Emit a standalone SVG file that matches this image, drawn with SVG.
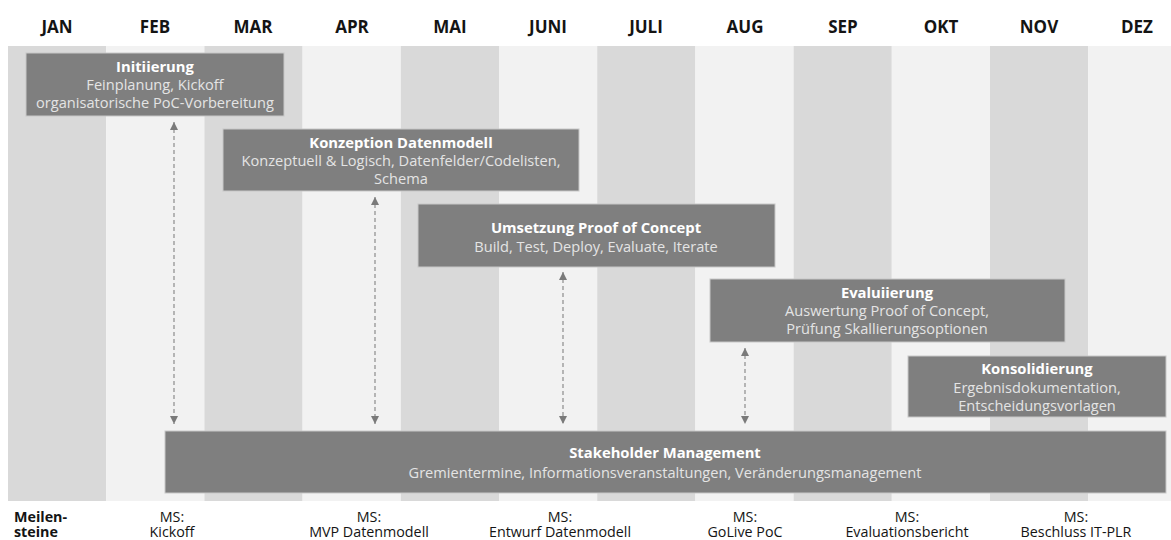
<svg xmlns="http://www.w3.org/2000/svg" width="1171" height="540" viewBox="0 0 1171 540">
  <style>
    .month { font-family: "Open Sans", "Noto Sans", sans-serif; font-size: 17px; font-weight: bold; fill: #141414; text-anchor: middle; }
    .colD { fill: #d9d9d9; }
    .colL { fill: #f2f2f2; }
    .box { fill: #7f7f7f; stroke: #c8c8c8; stroke-width: 1; }
    .title { font-family: "Open Sans", "Noto Sans", sans-serif; font-size: 14.8px; font-weight: bold; fill: #ffffff; text-anchor: middle; }
    .body { font-family: "Open Sans", "Noto Sans", sans-serif; font-size: 14.6px; fill: #e4e4e4; text-anchor: middle; }
    .link { stroke: #8c8c8c; stroke-width: 1.2; stroke-dasharray: 4 3; fill: none; }
    .ms { font-family: "Open Sans", "Noto Sans", sans-serif; font-size: 14.3px; fill: #141414; text-anchor: middle; }
    .msh { font-family: "Open Sans", "Noto Sans", sans-serif; font-size: 14.3px; font-weight: bold; fill: #141414; }
  </style>
  <defs>
    <marker id="tip" viewBox="0 0 10 10" refX="10" refY="5" markerWidth="8" markerHeight="8" markerUnits="userSpaceOnUse" orient="auto-start-reverse">
      <path d="M0,0 L10,5 L0,10 Z" fill="#7a7a7a"/>
    </marker>
  </defs>

  <rect width="1171" height="540" fill="#ffffff"/>

  <!-- month columns -->
  <g id="columns">
    <rect class="colD" x="8" y="46" width="98.2" height="455"/>
    <rect class="colL" x="106.2" y="46" width="98.2" height="455"/>
    <rect class="colD" x="204.4" y="46" width="98.2" height="455"/>
    <rect class="colL" x="302.6" y="46" width="98.2" height="455"/>
    <rect class="colD" x="400.8" y="46" width="98.2" height="455"/>
    <rect class="colL" x="499" y="46" width="98.2" height="455"/>
    <rect class="colD" x="597.2" y="46" width="98.2" height="455"/>
    <rect class="colL" x="695.4" y="46" width="98.2" height="455"/>
    <rect class="colD" x="793.6" y="46" width="98.2" height="455"/>
    <rect class="colL" x="891.8" y="46" width="98.2" height="455"/>
    <rect class="colD" x="990" y="46" width="98.2" height="455"/>
    <rect class="colL" x="1088.2" y="46" width="82.8" height="455"/>
  </g>

  <g id="months">
    <text class="month" x="57" y="33">JAN</text>
    <text class="month" x="155" y="33">FEB</text>
    <text class="month" x="253" y="33">MAR</text>
    <text class="month" x="352" y="33">APR</text>
    <text class="month" x="450" y="33">MAI</text>
    <text class="month" x="548" y="33">JUNI</text>
    <text class="month" x="646" y="33">JULI</text>
    <text class="month" x="745" y="33">AUG</text>
    <text class="month" x="843" y="33">SEP</text>
    <text class="month" x="941" y="33">OKT</text>
    <text class="month" x="1039" y="33">NOV</text>
    <text class="month" x="1137" y="33">DEZ</text>
  </g>

  <!-- connectors -->
  <g id="connectors">
    <line class="link" x1="174" y1="122" x2="174" y2="424" marker-start="url(#tip)" marker-end="url(#tip)"/>
    <line class="link" x1="375" y1="197" x2="375" y2="424" marker-start="url(#tip)" marker-end="url(#tip)"/>
    <line class="link" x1="563" y1="272" x2="563" y2="424" marker-start="url(#tip)" marker-end="url(#tip)"/>
    <line class="link" x1="745" y1="348" x2="745" y2="424" marker-start="url(#tip)" marker-end="url(#tip)"/>
  </g>

  <!-- phases -->
  <g id="initiierung">
    <rect class="box" x="26" y="53" width="258" height="63"/>
    <text class="title" x="155" y="72">Initiierung</text>
    <text class="body" x="155" y="90">Feinplanung, Kickoff</text>
    <text class="body" x="155" y="108">organisatorische PoC-Vorbereitung</text>
  </g>

  <g id="konzeption">
    <rect class="box" x="223" y="129" width="356" height="62"/>
    <text class="title" x="401" y="148">Konzeption Datenmodell</text>
    <text class="body" x="401" y="166">Konzeptuell &amp; Logisch, Datenfelder/Codelisten,</text>
    <text class="body" x="401" y="184">Schema</text>
  </g>

  <g id="umsetzung">
    <rect class="box" x="418" y="204" width="357" height="63"/>
    <text class="title" x="596" y="233">Umsetzung Proof of Concept</text>
    <text class="body" x="596" y="252">Build, Test, Deploy, Evaluate, Iterate</text>
  </g>

  <g id="evaluiierung">
    <rect class="box" x="710" y="279" width="355" height="63"/>
    <text class="title" x="887" y="298">Evaluiierung</text>
    <text class="body" x="887" y="316">Auswertung Proof of Concept,</text>
    <text class="body" x="887" y="334">Prüfung Skallierungsoptionen</text>
  </g>

  <g id="konsolidierung">
    <rect class="box" x="908" y="356" width="258" height="61"/>
    <text class="title" x="1037" y="374">Konsolidierung</text>
    <text class="body" x="1037" y="393">Ergebnisdokumentation,</text>
    <text class="body" x="1037" y="411">Entscheidungsvorlagen</text>
  </g>

  <g id="stakeholder">
    <rect class="box" x="165" y="431" width="1001" height="62"/>
    <text class="title" x="665" y="458">Stakeholder Management</text>
    <text class="body" x="665" y="478">Gremientermine, Informationsveranstaltungen, Veränderungsmanagement</text>
  </g>

  <!-- milestones -->
  <g id="milestones">
    <text class="msh" x="14" y="522">Meilen-</text>
    <text class="msh" x="14" y="537">steine</text>
    <text class="ms" x="172" y="522">MS:</text>
    <text class="ms" x="172" y="537">Kickoff</text>
    <text class="ms" x="369" y="522">MS:</text>
    <text class="ms" x="369" y="537">MVP Datenmodell</text>
    <text class="ms" x="560" y="522">MS:</text>
    <text class="ms" x="560" y="537">Entwurf Datenmodell</text>
    <text class="ms" x="745" y="522">MS:</text>
    <text class="ms" x="745" y="537">GoLive PoC</text>
    <text class="ms" x="907" y="522">MS:</text>
    <text class="ms" x="907" y="537">Evaluationsbericht</text>
    <text class="ms" x="1076" y="522">MS:</text>
    <text class="ms" x="1076" y="537">Beschluss IT-PLR</text>
  </g>
</svg>
